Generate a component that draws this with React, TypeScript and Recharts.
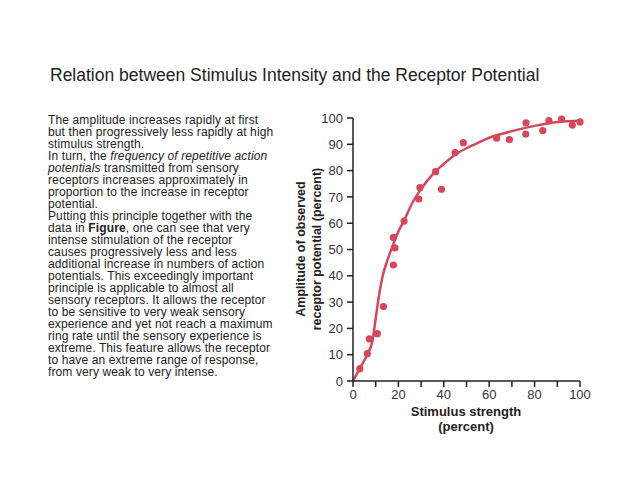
import React from 'react';
import { ComposedChart, Line, Scatter, XAxis, YAxis } from 'recharts';

// observed points (stimulus %, amplitude %)
const observedX = [3, 6.3, 7.2, 10.7, 13.4, 17.8, 18.5, 17.8, 22.5, 29, 29.5, 36.4, 39, 45, 48.6, 63.3, 68.9, 76.1, 76.2, 83.6, 86.3, 91.9, 96.6, 100];
const observedY = [4.7, 10.4, 16, 18, 28.3, 44.1, 50.6, 54.6, 60.8, 69.2, 73.5, 79.6, 72.9, 86.8, 90.6, 92.3, 91.8, 93.9, 98.2, 95.2, 99, 99.6, 97.3, 98.5];

// fitted curve
const curveX = [0, 3, 6.5, 8.5, 9.4, 11, 13.1, 15, 17, 19.8, 22.5, 26, 30, 35, 40, 45, 50, 55, 60, 70, 80, 90, 100];
const curveY = [0, 4.8, 10.5, 15, 20, 30, 40, 45.5, 50.4, 56.5, 61, 67.5, 73, 78.5, 82.5, 86, 88.5, 90.5, 92.5, 95, 97, 98.5, 99];

const yTicks = [0, 10, 20, 30, 40, 50, 60, 70, 80, 90, 100];
const xTicks = [0, 10, 20, 30, 40, 50, 60, 70, 80, 90, 100];

const title = 'Relation between Stimulus Intensity and the Receptor Potential';

const points = observedX.map((x, i) => ({ x, y: observedY[i] }));
const curve = curveX.map((x, i) => ({ x, y: curveY[i] }));

const RED = '#d6475b';
const FONT = '"Liberation Sans", Arial, sans-serif';

const YLabel = () => (
  <text
    transform="translate(308,249) rotate(-90)"
    textAnchor="middle"
    fontFamily={FONT}
    fontWeight="bold"
    fontSize={12.5}
    fill="#222"
  >
    <tspan x={0} dy={-3}>Amplitude of observed</tspan>
    <tspan x={0} dy={16}>receptor potential (percent)</tspan>
  </text>
);

const XLabel = () => (
  <text textAnchor="middle" fontFamily={FONT} fontWeight="bold" fontSize={13} fill="#222">
    <tspan x={466} y={416}>Stimulus strength</tspan>
    <tspan x={466} y={431}>(percent)</tspan>
  </text>
);

const App = () => {
  return (
    <div style={{ position: 'absolute', left: 0, top: 0, width: 640, height: 480, background: '#fff', fontFamily: FONT, color: '#222' }}>
      <div style={{ position: 'absolute', left: 50, top: 65, fontSize: 17.5, lineHeight: '20px', whiteSpace: 'nowrap' }}>
        {title}
      </div>
      <div style={{ position: 'absolute', left: 48, top: 114, fontSize: 12, lineHeight: '12px', letterSpacing: '0.12px', whiteSpace: 'nowrap' }}>
        <div>The amplitude increases rapidly at first</div>
        <div>but then progressively less rapidly at high</div>
        <div>stimulus strength.</div>
        <div>In turn, the <i>frequency of repetitive action</i></div>
        <div><i>potentials</i> transmitted from sensory</div>
        <div>receptors increases approximately in</div>
        <div>proportion to the increase in receptor</div>
        <div>potential.</div>
        <div>Putting this principle together with the</div>
        <div>data in <b>Figure</b>, one can see that very</div>
        <div>intense stimulation of the receptor</div>
        <div>causes progressively less and less</div>
        <div>additional increase in numbers of action</div>
        <div>potentials. This exceedingly important</div>
        <div>principle is applicable to almost all</div>
        <div>sensory receptors. It allows the receptor</div>
        <div>to be sensitive to very weak sensory</div>
        <div>experience and yet not reach a maximum</div>
        <div>ring rate until the sensory experience is</div>
        <div>extreme. This feature allows the receptor</div>
        <div>to have an extreme range of response,</div>
        <div>from very weak to very intense.</div>
      </div>
      <div style={{ position: 'absolute', left: 0, top: 0 }}>
        <ComposedChart width={640} height={480} margin={{ top: 118, right: 60, bottom: 69, left: 313 }}>
          <XAxis
            type="number"
            dataKey="x"
            domain={[0, 100]}
            ticks={xTicks}
            tickFormatter={(v: number) => (v % 20 === 0 ? String(v) : '')}
            height={30}
            tickSize={6}
            tickMargin={3}
            stroke="#222"
            strokeWidth={1.5}
            tick={{ fill: '#333', fontSize: 13, fontFamily: FONT }}
          />
          <YAxis
            type="number"
            dataKey="y"
            domain={[0, 100]}
            ticks={yTicks}
            width={40}
            tickSize={6}
            tickMargin={4}
            stroke="#222"
            strokeWidth={1.5}
            tick={{ fill: '#333', fontSize: 13, fontFamily: FONT }}
          />
          <Line
            data={curve}
            dataKey="y"
            type="monotone"
            stroke={RED}
            strokeWidth={2.5}
            dot={false}
            isAnimationActive={false}
          />
          <Scatter
            data={points}
            dataKey="y"
            fill={RED}
            isAnimationActive={false}
            shape={(p: any) => <circle cx={p.cx} cy={p.cy} r={3.6} fill={RED} />}
          />
          <YLabel />
          <XLabel />
        </ComposedChart>
      </div>
    </div>
  );
};

export default App;
